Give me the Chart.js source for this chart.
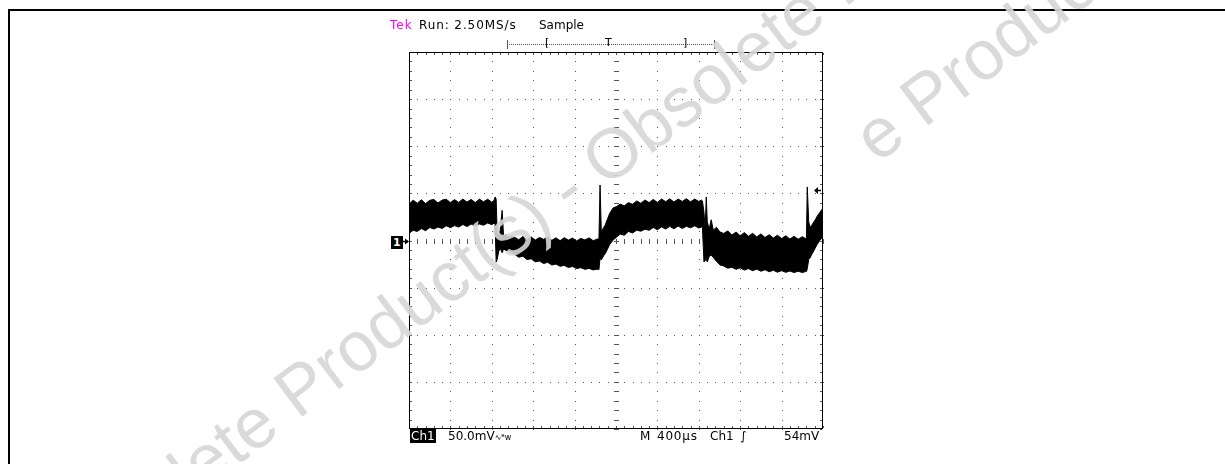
<!DOCTYPE html>
<html>
<head>
<meta charset="utf-8">
<script src="https://cdn.jsdelivr.net/npm/chart.js@4.4.1/dist/chart.umd.min.js"></script>
<style>
  body { margin: 0; background: #fff; }
  #wrap { position: relative; width: 1225px; height: 464px; overflow: hidden; font-family: "DejaVu Sans", sans-serif; }
  #frame { position: absolute; left: 8px; top: 9px; width: 1300px; height: 500px; border-left: 2px solid #000; border-top: 2px solid #000; }
  #scope { position: absolute; left: 0; top: 0; }
  .t { position: absolute; font-size: 12px; line-height: 12px; white-space: nowrap; color: #000; }
  .inv { background: #000; color: #fff; padding: 0 1px; }
  .wm { position: absolute; font-family: "Liberation Sans", Arial, sans-serif; font-size: 70px; line-height: 70px;
        color: rgba(214, 214, 214, 0.9); white-space: nowrap; transform: translate(-50%, -50%) rotate(-37deg); pointer-events: none; }
</style>
</head>
<body>
<div id="wrap">
  <div id="frame"></div>
  <canvas id="scope" width="1225" height="464"></canvas>

  <div class="t" style="left:390px;top:19px;color:#f0f;letter-spacing:1px;">Tek</div>
  <div class="t" style="left:419px;top:19px;letter-spacing:0.9px;">Run: 2.50MS/s</div>
  <div class="t" style="left:539px;top:19px;">Sample</div>
  <div class="t" style="left:545px;top:37px;font-size:11px;">[</div>
  <div class="t" style="left:605px;top:37px;font-size:11px;">T</div>
  <div class="t" style="left:683px;top:37px;font-size:11px;">]</div>

  <div class="t" id="gnd" style="left:391px;top:235px;"><span class="inv" style="font-size:11px;line-height:11px;padding:0 2px;font-weight:bold;">1</span></div>

  <div class="t" style="left:410px;top:430px;"><span class="inv">Ch1</span></div>
  <div class="t" style="left:448px;top:430px;">50.0mV<span style="font-size:8px;">∿ᴮw</span></div>
  <div class="t" style="left:640px;top:430px;">M</div>
  <div class="t" style="left:657px;top:430px;letter-spacing:0.8px;">400µs</div>
  <div class="t" style="left:710px;top:430px;">Ch1</div>
  <div class="t" style="left:740px;top:430px;">∫</div>
  <div class="t" style="left:784px;top:430px;">54mV</div>

  <div class="wm" style="left:566px;top:188px;">Obsolete Product(s) - Obsolete Product(s)</div>
  <div class="wm" style="left:1015px;top:30px;">e Product(s)</div>
</div>

<script>
// horizontal: 400 µs/div, 10 divs; vertical: 50 mV/div, 8 divs
const timeTicks = [0, 400, 800, 1200, 1600, 2000, 2400, 2800, 3200, 3600, 4000];
const voltTicks = [-200, -150, -100, -50, 0, 50, 100, 150, 200];
const trigLevel = 54;

// sample times (µs) and the top / bottom edge of the noisy trace band (mV)
const timeUs = [
  0, 40, 80, 120, 160, 200, 240, 280, 320, 360, 400, 440, 480, 520, 560, 600, 640, 680, 720, 760, 800, 822,
  832, 842, 852, 866, 880, 900, 914, 935, 960, 990,
  1020, 1060, 1100, 1140, 1180, 1220, 1260, 1300, 1340, 1380, 1420, 1460, 1500, 1540, 1580, 1620, 1660, 1700, 1740, 1780, 1820,
  1835, 1846, 1858, 1868, 1882, 1896, 1914, 1940, 1972,
  2005, 2040, 2080, 2120, 2160, 2200, 2240, 2280, 2320, 2360, 2400, 2440, 2480, 2520, 2560, 2600, 2640, 2680, 2720, 2760, 2800, 2825,
  2835, 2850, 2862, 2872, 2882, 2900, 2920, 2940, 2970, 3005,
  3040, 3080, 3120, 3160, 3200, 3240, 3280, 3320, 3360, 3400, 3440, 3480, 3520, 3560, 3600, 3640, 3680, 3720, 3760, 3800, 3830,
  3840, 3848, 3862, 3875, 3890, 3905, 3925, 3945, 3972, 4000
];
const bandTop = [
  38.5, 42.8, 39.6, 43.2, 39.2, 42.6, 43.6, 39.8, 42.9, 43.8, 40.2, 43.4, 40.4, 44.0, 40.8, 43.6, 40.2, 43.9, 41.0, 43.8, 40.6, 42.6,
  46.2, 44.0, 8.0, 4.0, 10.0, 32.0, 4.5, 6.0, 3.5, 4.5,
  3.5, 0.8, 4.2, 1.0, 3.8, 0.4, 3.2, 1.2, 3.6, 0.2, 2.8, -0.2, 3.0, 0.4, 2.6, -0.4, 2.2, 0.6, 2.8, -0.2, 1.6,
  1.5, 58.9, 10.0, 11.0, 14.0, 16.5, 21.8, 29.0, 34.5,
  36.0, 38.6, 36.8, 40.2, 38.4, 42.0, 39.4, 43.0, 40.2, 43.6, 40.4, 44.0, 41.2, 44.2, 40.8, 44.0, 41.4, 44.4, 41.0, 44.0, 41.4, 43.0,
  42.0, 30.0, 12.0, 46.2, 20.0, 12.0, 22.0, 11.0, 14.0, 9.0,
  7.5, 10.2, 5.8, 9.0, 5.0, 8.4, 4.6, 7.6, 3.8, 7.0, 3.2, 6.2, 2.6, 5.6, 2.0, 5.0, 1.6, 4.4, 1.4, 4.0, 2.2,
  3.0, 56.8, 20.0, 14.0, 16.0, 18.6, 22.0, 26.0, 30.2, 34.5
];
const bandBottom = [
  7.5, 10.8, 9.6, 12.6, 10.4, 13.8, 12.2, 14.2, 12.8, 15.6, 13.6, 15.8, 14.2, 17.0, 14.8, 17.4, 15.6, 17.6, 16.2, 18.6, 16.8, 18.4,
  17.0, -22.8, -20.0, -12.0, -8.0, -13.0, -9.0, -10.5, -11.0, -12.5,
  -14.5, -17.8, -16.6, -20.2, -19.4, -22.6, -21.8, -24.4, -23.2, -26.0, -25.0, -27.4, -26.4, -28.6, -27.6, -29.8, -28.8, -30.6, -29.6, -31.2, -30.4,
  -31.0, -18.6, -20.7, -18.6, -16.0, -14.0, -10.0, -4.0, 0.5,
  3.5, 6.8, 5.6, 9.6, 8.0, 11.0, 9.8, 12.0, 10.8, 13.8, 11.4, 14.4, 12.2, 15.0, 12.4, 15.4, 12.8, 15.0, 13.4, 15.6, 13.2, 14.3,
  14.0, -22.8, -21.0, -20.0, -22.8, -17.0, -15.5, -18.0, -22.0, -26.0,
  -27.0, -29.4, -28.4, -30.6, -29.0, -31.4, -29.8, -32.0, -30.4, -32.6, -31.0, -33.2, -31.6, -33.6, -32.0, -33.8, -32.4, -34.0, -32.6, -34.0, -33.0,
  -33.0, -30.0, -20.0, -18.6, -15.0, -12.2, -8.0, -4.0, 0.5, 3.7
];

// Tek style graticule: dotted division lines, ticked centre cross, ticked border
const graticule = {
  id: "graticule",
  beforeDatasetsDraw(chart) {
    const { ctx, chartArea: a, scales: { x, y } } = chart;
    const minorT = (timeTicks[1] - timeTicks[0]) / 5;
    const minorV = (voltTicks[1] - voltTicks[0]) / 5;
    const px = (t) => Math.round(x.getPixelForValue(t));
    const py = (v) => Math.round(y.getPixelForValue(v));
    ctx.save();
    ctx.fillStyle = "#555";
    timeTicks.slice(1, -1).forEach((t) => {
      for (let v = voltTicks[0]; v <= voltTicks[voltTicks.length - 1]; v += minorV) ctx.fillRect(px(t), py(v), 1, 1);
    });
    voltTicks.slice(1, -1).forEach((v) => {
      for (let t = timeTicks[0]; t <= timeTicks[timeTicks.length - 1]; t += minorT) ctx.fillRect(px(t), py(v), 1, 1);
    });
    // centre cross ticks
    const cx = px(2000), cy = py(0);
    for (let t = 0; t <= 4000; t += minorT) ctx.fillRect(px(t), cy - 2, 1, 5);
    for (let v = -200; v <= 200; v += minorV) ctx.fillRect(cx - 2, py(v), 5, 1);
    // border ticks
    for (let t = 0; t <= 4000; t += minorT) {
      ctx.fillRect(px(t), a.top + 1, 1, 2);
      ctx.fillRect(px(t), a.bottom - 3, 1, 2);
    }
    for (let v = -200; v <= 200; v += minorV) {
      ctx.fillRect(a.left + 1, py(v), 2, 1);
      ctx.fillRect(a.right - 3, py(v), 2, 1);
    }
    ctx.strokeStyle = "#000";
    ctx.lineWidth = 1;
    ctx.strokeRect(a.left + 0.5, a.top + 0.5, a.width - 1, a.height - 1);
    ctx.restore();
  },
  afterDraw(chart) {
    const { ctx, chartArea: a, scales: { y } } = chart;
    ctx.save();
    // record-length bar above the graticule
    ctx.fillStyle = "#555";
    for (let xx = 507; xx <= 714; xx += 2) ctx.fillRect(xx, 44, 1, 1);
    ctx.fillRect(507, 40, 1, 9);
    ctx.fillRect(714, 40, 1, 9);
    // ground arrow (1 ->) and trigger level arrow (<-)
    ctx.strokeStyle = "#000";
    ctx.fillStyle = "#000";
    ctx.lineWidth = 1.5;
    const g = Math.round(y.getPixelForValue(0)) + 0.5;
    ctx.beginPath(); ctx.moveTo(402, g); ctx.lineTo(a.left - 1, g); ctx.stroke();
    ctx.beginPath(); ctx.moveTo(a.left, g); ctx.lineTo(a.left - 4, g - 3); ctx.lineTo(a.left - 4, g + 3); ctx.closePath(); ctx.fill();
    const tr = Math.round(y.getPixelForValue(trigLevel)) + 0.5;
    ctx.beginPath(); ctx.moveTo(a.right - 2, tr); ctx.lineTo(a.right - 7, tr); ctx.stroke();
    ctx.beginPath(); ctx.moveTo(a.right - 9, tr); ctx.lineTo(a.right - 5, tr - 3.5); ctx.lineTo(a.right - 5, tr + 3.5); ctx.closePath(); ctx.fill();
    ctx.restore();
  },
};

const chart = new Chart(document.getElementById("scope"), {
  type: "line",
  data: {
    datasets: [
      {
        label: "Ch1 top",
        data: timeUs.map((t, i) => ({ x: t, y: bandTop[i] })),
        borderColor: "#000",
        borderWidth: 1,
        pointRadius: 0,
        tension: 0,
        fill: false,
      },
      {
        label: "Ch1 bottom",
        data: timeUs.map((t, i) => ({ x: t, y: bandBottom[i] })),
        borderColor: "#000",
        backgroundColor: "#000",
        borderWidth: 1,
        pointRadius: 0,
        tension: 0,
        fill: "-1",
      },
    ],
  },
  options: {
    responsive: false,
    animation: false,
    layout: { padding: { left: 409, right: 402, top: 52, bottom: 35 } },
    scales: {
      x: { type: "linear", min: timeTicks[0], max: timeTicks[timeTicks.length - 1], display: false },
      y: { type: "linear", min: voltTicks[0], max: voltTicks[voltTicks.length - 1], display: false },
    },
    plugins: { legend: { display: false }, tooltip: { enabled: false } },
  },
  plugins: [graticule],
});

// ground marker box placed from the y scale
document.getElementById("gnd").style.top = Math.round(chart.scales.y.getPixelForValue(0)) - 5 + "px";
</script>
</body>
</html>
